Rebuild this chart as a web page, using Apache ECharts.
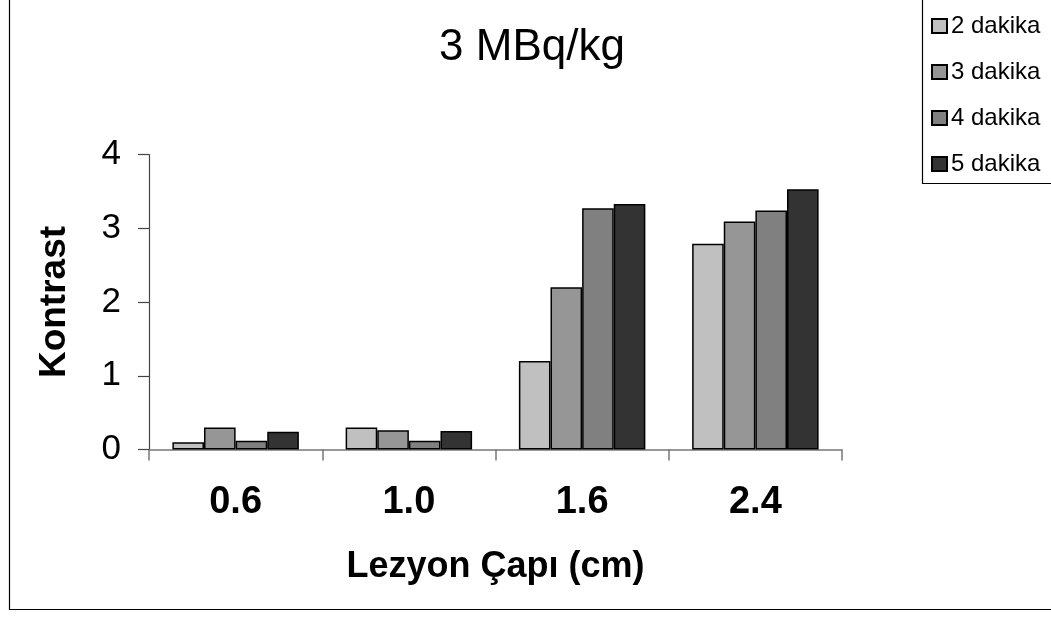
<!DOCTYPE html>
<html>
<head>
<meta charset="utf-8">
<script src="https://cdn.jsdelivr.net/npm/echarts@6/dist/echarts.min.js"></script>
<style>
  html, body { margin: 0; padding: 0; background: #fff; }
  #chart { width: 1051px; height: 621px; }
</style>
</head>
<body>
<div id="chart"></div>
<script>
// Lesion diameter categories (cm)
const categories = ['0.6', '1.0', '1.6', '2.4'];
// Contrast values for each acquisition time
const dk2 = [0.10, 0.30, 1.20, 2.79];
const dk3 = [0.30, 0.26, 2.20, 3.09];
const dk4 = [0.12, 0.12, 3.27, 3.24];
const dk5 = [0.24, 0.25, 3.33, 3.53];
const seriesNames = ['2 dakika', '3 dakika', '4 dakika', '5 dakika'];
const yTicks = [0, 1, 2, 3, 4];

const FONT = '"Liberation Sans", Arial, Helvetica, sans-serif';
const colors = ['#c0c0c0', '#969696', '#808080', '#333333'];
const seriesData = [dk2, dk3, dk4, dk5];

const chart = echarts.init(document.getElementById('chart'), null, { renderer: 'canvas' });

const option = {
  animation: false,
  backgroundColor: '#ffffff',
  title: {
    text: '3 MBq/kg',
    left: 527,
    top: 21,
    textAlign: 'center',
    textStyle: { fontFamily: FONT, fontSize: 44, fontWeight: 'normal', color: '#000' }
  },
  legend: {
    orient: 'vertical',
    left: 926,
    top: 9,
    itemWidth: 15,
    itemHeight: 14,
    itemGap: 22,
    icon: 'rect',
    data: seriesNames,
    textStyle: { fontFamily: FONT, fontSize: 24, color: '#000', padding: [0, 0, 0, -1] }
  },
  grid: { left: 149, right: 209, top: 154.5, bottom: 171.5, containLabel: false },
  xAxis: {
    type: 'category',
    data: categories,
    name: 'Lezyon Çapı (cm)',
    nameLocation: 'middle',
    nameGap: 100,
    nameTextStyle: { fontFamily: FONT, fontSize: 36, fontWeight: 'bold', color: '#000' },
    axisLine: { lineStyle: { color: '#777', width: 1.5 } },
    axisTick: { show: true, length: 11, lineStyle: { color: '#777', width: 1.5 } },
    axisLabel: { fontFamily: FONT, fontSize: 38, fontWeight: 'bold', color: '#000', margin: 34 }
  },
  yAxis: {
    type: 'value',
    min: yTicks[0],
    max: yTicks[yTicks.length - 1],
    interval: 1,
    name: 'Kontrast',
    nameLocation: 'middle',
    nameGap: 76,
    nameTextStyle: { fontFamily: FONT, fontSize: 37, fontWeight: 'bold', color: '#000' },
    splitLine: { show: false },
    axisLine: { show: true, lineStyle: { color: '#444', width: 1.2 } },
    axisTick: { show: true, length: 11, lineStyle: { color: '#444', width: 1.2 } },
    axisLabel: { fontFamily: FONT, fontSize: 35, color: '#000', margin: 28 }
  },
  series: seriesNames.map((name, i) => ({
    name: name,
    type: 'bar',
    data: seriesData[i],
    barGap: '0%',
    barCategoryGap: '27%',
    itemStyle: { color: colors[i], borderColor: '#000', borderWidth: 1.5 }
  })),
  graphic: [
    {
      type: 'rect',
      silent: true,
      shape: { x: 9.5, y: -10, width: 1100, height: 619.5 },
      style: { fill: 'none', stroke: '#000', lineWidth: 1.2 },
      z: -1
    },
    {
      type: 'rect',
      silent: true,
      shape: { x: 922.5, y: -10, width: 200, height: 193.5 },
      style: { fill: 'none', stroke: '#000', lineWidth: 1.2 },
      z: -1
    }
  ]
};

chart.setOption(option);
</script>
</body>
</html>
